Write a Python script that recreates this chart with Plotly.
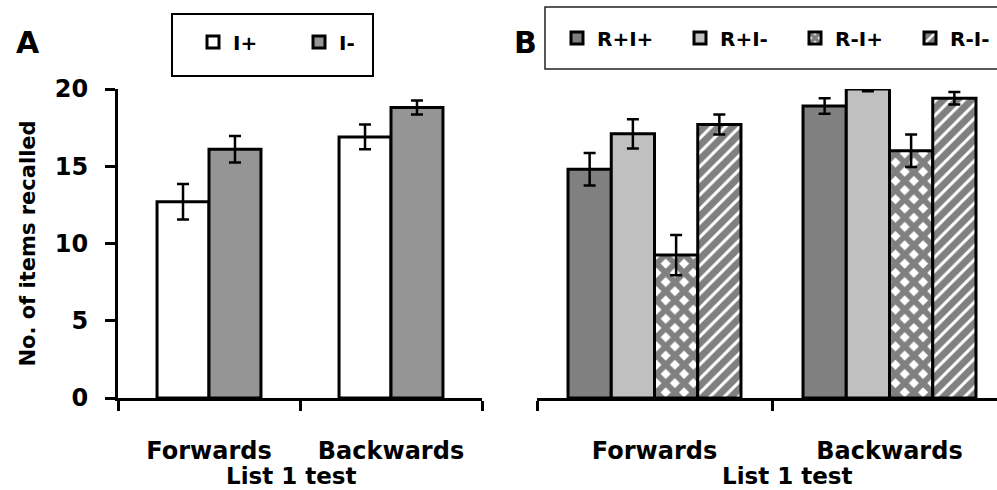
import plotly.graph_objects as go

# ---------------- data ----------------
categories = ["Forwards", "Backwards"]

a_names = ["I+", "I-"]
a_iplus = [12.7, 16.9]
a_iplus_err = [1.15, 0.8]
a_iminus = [16.1, 18.8]
a_iminus_err = [0.85, 0.45]

b_names = ["R+I+", "R+I-", "R-I+", "R-I-"]
b_rpip = [14.8, 18.9]
b_rpip_err = [1.05, 0.5]
b_rpim = [17.1, 20.0]
b_rpim_err = [0.95, 0.15]
b_rmip = [9.25, 16.0]
b_rmip_err = [1.3, 1.05]
b_rmim = [17.7, 19.4]
b_rmim_err = [0.65, 0.4]

y_ticks = [0, 5, 10, 15, 20]

# ---------------- style ----------------
W, H = 997, 490
FONT = "DejaVu Sans"
LINE = 3


def px_x(p):
    return p / W


def px_y(p):
    return 1 - p / H


fig = go.Figure()
legends = {}


def legend_at(key, sym_x, cy):
    # plotly draws the legend symbol ~20px right of the legend's left edge
    legends[key] = dict(
        x=px_x(sym_x - 20), y=px_y(cy), xanchor="left", yanchor="middle",
        orientation="h", bgcolor="rgba(0,0,0,0)", borderwidth=0,
        font=dict(family=FONT, size=20, color="black", weight="bold"),
        itemclick=False, itemdoubleclick=False,
    )


# Panel A
a_vals = [a_iplus, a_iminus]
a_errs = [a_iplus_err, a_iminus_err]
a_fill = ["white", "#959595"]
a_sym_x = [213, 319]
a_group = 0.571
a_w = a_group / len(a_vals)
for i, (name, vals, errs, col) in enumerate(zip(a_names, a_vals, a_errs, a_fill)):
    key = "legend" if i == 0 else "legend%d" % (i + 1)
    legend_at(key, a_sym_x[i], 42)
    fig.add_trace(go.Bar(
        x=categories, y=vals, name=name,
        xaxis="x", yaxis="y", legend=key,
        width=a_w, offset=-a_group / 2 + i * a_w,
        marker=dict(color=col, line=dict(color="black", width=LINE)),
        error_y=dict(type="data", array=errs, color="black", thickness=2.5, width=6),
    ))

# Panel B
b_vals = [b_rpip, b_rpim, b_rmip, b_rmim]
b_errs = [b_rpip_err, b_rpim_err, b_rmip_err, b_rmim_err]
b_markers = [
    dict(color="#808080"),
    dict(color="#c0c0c0"),
    dict(color="#808080", pattern=dict(shape="x", fgcolor="#808080", bgcolor="white",
                                        size=13, solidity=0.7, fillmode="replace")),
    dict(color="#808080", pattern=dict(shape="/", fgcolor="white", bgcolor="#808080",
                                        size=10, solidity=0.3, fillmode="replace")),
]
b_sym_x = [577, 700, 815, 930]
b_group = 0.736
b_w = b_group / len(b_vals)
for i, (name, vals, errs, mk) in enumerate(zip(b_names, b_vals, b_errs, b_markers)):
    key = "legend%d" % (i + 3)
    legend_at(key, b_sym_x[i], 38)
    mk = dict(mk)
    mk["line"] = dict(color="black", width=LINE)
    fig.add_trace(go.Bar(
        x=categories, y=vals, name=name,
        xaxis="x2", yaxis="y2", legend=key,
        width=b_w, offset=-b_group / 2 + i * b_w,
        marker=mk,
        error_y=dict(type="data", array=errs, color="black", thickness=2.5, width=6),
    ))

ydom = [px_y(398), px_y(89)]
tickfont = dict(family=FONT, size=24, color="black", weight="bold")

xcommon = dict(
    type="category", tickson="boundaries", ticks="outside", ticklen=10, tickwidth=2.5,
    tickcolor="black", showline=True, linewidth=LINE, linecolor="black",
    showgrid=False, zeroline=False, tickfont=tickfont, ticklabelstandoff=29,
    fixedrange=True, automargin=False,
)

b_cat_px = (772 - 537)
b_range_end = 0.5 + (997 - 772) / b_cat_px


def label(text, x, y, size):
    return dict(text=text, xref="paper", yref="paper", x=px_x(x), y=px_y(y),
                xanchor="center", yanchor="middle", showarrow=False,
                font=dict(family=FONT, size=size, color="black", weight="bold"))


fig.update_layout(
    width=W, height=H,
    margin=dict(l=0, r=0, t=0, b=0, autoexpand=False),
    paper_bgcolor="white", plot_bgcolor="white",
    font=dict(family=FONT, color="black", weight="bold"),
    barmode="overlay",
    showlegend=True,
    xaxis=dict(domain=[px_x(118), px_x(482)], range=[-0.5, 1.5], anchor="y", **xcommon),
    yaxis=dict(domain=ydom, range=[0, 20], tickvals=y_ticks, ticks="outside", ticklen=10,
               tickwidth=2.5, tickcolor="black", showline=True, linewidth=LINE,
               linecolor="black", showgrid=False, zeroline=False, tickfont=tickfont,
               ticklabelstandoff=12, anchor="x", fixedrange=True, automargin=False,
               title=dict(text="No. of items recalled",
                          font=dict(family=FONT, size=21, color="black", weight="bold"),
                          standoff=14)),
    xaxis2=dict(domain=[px_x(537), 1], range=[-0.5, b_range_end], anchor="y2", **xcommon),
    yaxis2=dict(domain=ydom, range=[0, 20], visible=False, anchor="x2", fixedrange=True,
                automargin=False),
    shapes=[
        dict(type="rect", xref="paper", yref="paper",
             x0=px_x(172), x1=px_x(373), y0=px_y(76), y1=px_y(14),
             line=dict(color="black", width=2), fillcolor="rgba(0,0,0,0)", layer="below"),
        dict(type="rect", xref="paper", yref="paper",
             x0=px_x(545), x1=px_x(1010), y0=px_y(69), y1=px_y(7),
             line=dict(color="#222222", width=1.5), fillcolor="rgba(0,0,0,0)", layer="below"),
    ],
    annotations=[
        label("A", 28, 43, 30),
        label("B", 525, 43, 30),
        label("List 1 test", 291, 476, 23),
        label("List 1 test", 787, 476, 23),
    ],
    **legends,
)

fig.write_html("out.html")
